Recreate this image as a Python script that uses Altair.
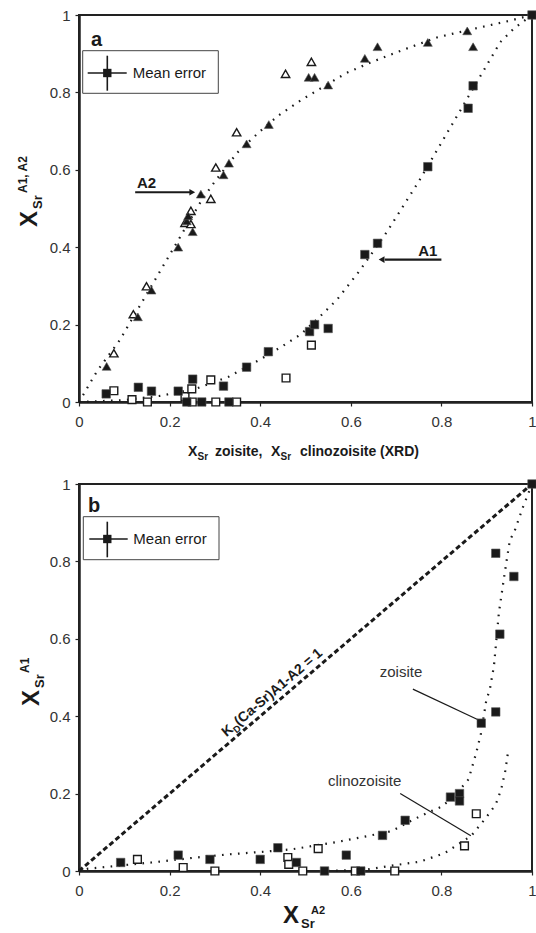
import altair as alt
import pandas as pd

W, H = 453, 387
FONT = "Liberation Sans"
INK = "#1a1a1a"
TICKS = [0, 0.2, 0.4, 0.6, 0.8, 1]

# ---------------- Panel a data ----------------
a_zoA2_x = [0.061, 0.130, 0.160, 0.219, 0.238, 0.241, 0.251, 0.269, 0.319, 0.331, 0.370, 0.419, 0.507, 0.520, 0.550, 0.631, 0.659, 0.770, 0.857, 0.870]
a_zoA2_y = [0.092, 0.220, 0.289, 0.400, 0.468, 0.481, 0.440, 0.537, 0.587, 0.617, 0.667, 0.717, 0.839, 0.839, 0.819, 0.888, 0.918, 0.929, 0.959, 0.918]
a_czA2_x = [0.077, 0.120, 0.149, 0.234, 0.247, 0.247, 0.291, 0.302, 0.348, 0.456, 0.513]
a_czA2_y = [0.126, 0.227, 0.299, 0.463, 0.460, 0.494, 0.525, 0.606, 0.697, 0.848, 0.879]
a_zoA1_x = [0.060, 0.131, 0.160, 0.219, 0.238, 0.251, 0.271, 0.319, 0.331, 0.370, 0.418, 0.509, 0.520, 0.550, 0.631, 0.659, 0.770, 0.859, 0.870, 1.0]
a_zoA1_y = [0.021, 0.038, 0.028, 0.028, 0.0, 0.059, 0.0, 0.041, 0.0, 0.090, 0.130, 0.182, 0.200, 0.190, 0.381, 0.410, 0.608, 0.759, 0.817, 1.0]
a_czA1_x = [0.077, 0.117, 0.151, 0.234, 0.249, 0.250, 0.291, 0.302, 0.348, 0.457, 0.513]
a_czA1_y = [0.029, 0.006, 0.0, 0.014, 0.034, 0.0, 0.057, 0.0, 0.0, 0.062, 0.147]
# dotted trend curves
a_curveA2_x = [0, 0.04, 0.09, 0.14, 0.20, 0.23, 0.27, 0.30, 0.35, 0.40, 0.44, 0.49, 0.54, 0.59, 0.645, 0.72, 0.79, 0.87, 0.95, 1.0]
a_curveA2_y = [0, 0.08, 0.16, 0.26, 0.38, 0.44, 0.52, 0.57, 0.645, 0.70, 0.74, 0.78, 0.815, 0.85, 0.878, 0.912, 0.942, 0.964, 0.985, 1.0]
a_curveA1_x = [0, 0.10, 0.18, 0.26, 0.33, 0.40, 0.45, 0.49, 0.54, 0.57, 0.60, 0.62, 0.68, 0.75, 0.80, 0.86, 0.90, 0.93, 0.96, 1.0]
a_curveA1_y = [0, 0.005, 0.016, 0.035, 0.065, 0.11, 0.145, 0.175, 0.23, 0.265, 0.31, 0.34, 0.44, 0.57, 0.67, 0.79, 0.87, 0.93, 0.965, 1.0]

# ---------------- Panel b data ----------------
b_zo_x = [0.092, 0.219, 0.289, 0.400, 0.439, 0.480, 0.542, 0.590, 0.622, 0.670, 0.720, 0.820, 0.840, 0.840, 0.888, 0.920, 0.929, 0.920, 0.960, 1.0]
b_zo_y = [0.022, 0.041, 0.030, 0.030, 0.060, 0.022, 0.0, 0.041, 0.0, 0.092, 0.131, 0.191, 0.200, 0.181, 0.382, 0.411, 0.612, 0.821, 0.761, 1.0]
b_cz_x = [0.129, 0.230, 0.300, 0.461, 0.463, 0.494, 0.528, 0.610, 0.697, 0.851, 0.877]
b_cz_y = [0.030, 0.009, 0.0, 0.035, 0.017, 0.0, 0.058, 0.0, 0.0, 0.065, 0.148]
b_curveZo_x = [0, 0.02, 0.16, 0.26, 0.33, 0.41, 0.47, 0.57, 0.64, 0.69, 0.74, 0.77, 0.80, 0.83, 0.86, 0.877, 0.887, 0.899, 0.907, 0.916, 0.927, 0.94, 0.951, 0.962, 0.98, 1.0]
b_curveZo_y = [0, 0.006, 0.022, 0.035, 0.043, 0.05, 0.056, 0.075, 0.091, 0.103, 0.134, 0.151, 0.166, 0.195, 0.237, 0.306, 0.354, 0.44, 0.47, 0.53, 0.668, 0.772, 0.854, 0.88, 0.94, 1.0]
b_curveCz_x = [0.55, 0.638, 0.697, 0.752, 0.807, 0.866, 0.896, 0.92, 0.932, 0.941, 0.947]
b_curveCz_y = [0.0, 0.004, 0.015, 0.024, 0.046, 0.091, 0.134, 0.172, 0.211, 0.259, 0.306]
b_diag_x = [0, 1]
b_diag_y = [0, 1]

xs = alt.Scale(domain=[0, 1], nice=False)
ys = alt.Scale(domain=[0, 1], nice=False)
xax = alt.Axis(title="", values=TICKS, format="~g")
yax = alt.Axis(title="", values=TICKS, format="~g")
ONE = pd.DataFrame({"k": [0]})


def df(x, y):
    return pd.DataFrame({"x": x, "y": y})


def xy(ch):
    return ch.encode(x=alt.X("x:Q", scale=xs, axis=xax), y=alt.Y("y:Q", scale=ys, axis=yax))


def curve(x, y, dash=(1.6, 6.4), width=2.2):
    return xy(alt.Chart(df(x, y)).mark_line(color=INK, strokeWidth=width, strokeDash=list(dash), strokeCap="butt"))


def filled(x, y, shape, size):
    return xy(alt.Chart(df(x, y)).mark_point(shape=shape, filled=True, fill=INK, stroke="#555", strokeWidth=0.6, size=size, opacity=1))


def hollow(x, y, shape, size):
    return xy(alt.Chart(df(x, y)).mark_point(shape=shape, filled=True, fill="white", stroke=INK, strokeWidth=1.4, size=size, opacity=1))


def txt(s, x, y, size, bold=False, align="left", baseline="alphabetic", angle=0, dx=0, dy=0, color=INK):
    return alt.Chart(ONE).mark_text(text=s, font=FONT, fontSize=size, fontWeight="bold" if bold else "normal",
                                    align=align, baseline=baseline, angle=angle, dx=dx, dy=dy, color=color).encode(
        x=alt.value(x), y=alt.value(y))


def dtxt(s, x, y, size, bold=False, align="left", baseline="alphabetic", angle=0, dx=0, dy=0):
    return xy(alt.Chart(df([x], [y])).mark_text(text=s, font=FONT, fontSize=size, fontWeight="bold" if bold else "normal",
                                                align=align, baseline=baseline, angle=angle, dx=dx, dy=dy, color=INK))


def seg(x1, y1, x2, y2, width=1.2):
    d = pd.DataFrame({"x": [x1], "y": [y1], "x2": [x2], "y2": [y2]})
    return alt.Chart(d).mark_rule(color=INK, strokeWidth=width).encode(
        x=alt.X("x:Q", scale=xs, axis=xax), y=alt.Y("y:Q", scale=ys, axis=yax), x2="x2:Q", y2="y2:Q")


def prule(x1, y1, x2, y2, width=1.5):
    return alt.Chart(ONE).mark_rule(color=INK, strokeWidth=width).encode(
        x=alt.value(x1), y=alt.value(y1), x2=alt.value(x2), y2=alt.value(y2))


def legend(bx0, by0, bx1, by1, cx, cy, hx0, hx1, vy0, vy1, tx):
    box = alt.Chart(ONE).mark_rect(fill="white", stroke="#444", strokeWidth=1).encode(
        x=alt.value(bx0), x2=alt.value(bx1), y=alt.value(by0), y2=alt.value(by1))
    sq = alt.Chart(ONE).mark_point(shape="square", filled=True, fill=INK, size=70, opacity=1).encode(
        x=alt.value(cx), y=alt.value(cy))
    return [box, prule(hx0, cy, hx1, cy, 1.6), prule(cx, vy0, cx, vy1, 1.6), sq,
            txt("Mean error", tx, cy, 15, baseline="middle")]


# ---------------- Panel a ----------------
arrowA2 = [seg(0.124, 0.542, 0.245, 0.542, 2.2),
           xy(alt.Chart(df([0.250], [0.542])).mark_point(shape="triangle-right", filled=True, fill=INK, size=45, opacity=1)),
           dtxt("A2", 0.149, 0.542, 15, bold=True, align="center", dy=-4)]
arrowA1 = [seg(0.675, 0.368, 0.80, 0.368, 2.2),
           xy(alt.Chart(df([0.668], [0.368])).mark_point(shape="triangle-left", filled=True, fill=INK, size=45, opacity=1)),
           dtxt("A1", 0.770, 0.368, 15, bold=True, align="center", dy=-4)]

top_layers = [
    curve(a_curveA2_x, a_curveA2_y),
    curve(a_curveA1_x, a_curveA1_y),
    hollow(a_czA1_x, a_czA1_y, "square", 60),
    hollow(a_czA2_x, a_czA2_y, "triangle-up", 70),
    filled(a_zoA1_x, a_zoA1_y, "square", 72),
    filled(a_zoA2_x, a_zoA2_y, "triangle-up", 80),
    *arrowA2, *arrowA1,
    *legend(3.7, 35.7, 139.3, 78.3, 28.3, 58, 8.7, 47.7, 40.7, 75.7, 53.7),
    txt("a", 12, 31, 20, bold=True),
    # x title: X_Sr zoisite, X_Sr clinozoisite (XRD)
    txt("X", 109, 440.5, 14, bold=True),
    txt("Sr", 118.5, 444.5, 10, bold=True),
    txt("zoisite,", 136, 440.5, 14, bold=True),
    txt("X", 192, 440.5, 14, bold=True),
    txt("Sr", 201.5, 444.5, 10, bold=True),
    txt("clinozoisite (XRD)", 221, 440.5, 14, bold=True),
    # y title: X_Sr^(A1, A2)
    txt("X", -42, 212, 24, bold=True, angle=270),
    txt("Sr", -42, 212, 13, bold=True, angle=270, dx=18, dy=5),
    txt("A1, A2", -42, 212, 12, bold=True, angle=270, dx=34, dy=-10),
]
top = alt.layer(*top_layers).properties(width=W, height=H)

# ---------------- Panel b ----------------
KD = 0.334
kd = [dtxt("K", KD, KD, 14, bold=True, angle=319.5, dy=-6),
      dtxt("D", KD, KD, 9.5, bold=True, angle=319.5, dx=10, dy=-2),
      dtxt("(Ca-Sr)A1-A2 = 1", KD, KD, 14, bold=True, angle=319.5, dx=16.5, dy=-6)]

bot_layers = [
    curve(b_diag_x, b_diag_y, dash=(5, 3), width=3),
    curve(b_curveZo_x, b_curveZo_y),
    curve(b_curveCz_x, b_curveCz_y),
    seg(0.737, 0.470, 0.881, 0.391, 1.2),
    seg(0.709, 0.200, 0.865, 0.091, 1.2),
    hollow(b_cz_x, b_cz_y, "square", 60),
    filled(b_zo_x, b_zo_y, "square", 72),
    *kd,
    txt("zoisite", 322, 188, 15, align="center", baseline="middle", color="#333"),
    txt("clinozoisite", 285.7, 296.7, 15, align="center", baseline="middle", color="#333"),
    *legend(4.3, 32.7, 140, 75.7, 28.3, 55, 10.3, 48.7, 37.7, 73.3, 54.3),
    txt("b", 9, 28, 20, bold=True),
    # x title: X_Sr^A2
    txt("X", 204, 439, 24, bold=True),
    txt("Sr", 222, 444, 13, bold=True),
    txt("A2", 232, 430, 11, bold=True),
    # y title: X_Sr^A1
    txt("X", -40, 222, 24, bold=True, angle=270),
    txt("Sr", -40, 222, 13, bold=True, angle=270, dx=18, dy=5),
    txt("A1", -40, 222, 12, bold=True, angle=270, dx=33, dy=-10),
]
bottom = alt.layer(*bot_layers).properties(width=W, height=H)

chart = alt.vconcat(top, bottom, spacing=82, bounds="flush").properties(
    padding={"left": 16, "top": 7, "right": -3, "bottom": 0}
).configure_view(stroke="#222", strokeWidth=2).configure_axis(
    grid=False, domainColor="#222", domainWidth=2.5, tickColor="#222", tickSize=4, tickWidth=1.2,
    labelFont=FONT, labelFontSize=15, labelColor="#333", labelPadding=6
).configure_axisX(labelPadding=8, labelFlush=False).configure_axisY(labelPadding=5)

chart.save("out.html", embed_options={"renderer": "svg", "actions": False})
